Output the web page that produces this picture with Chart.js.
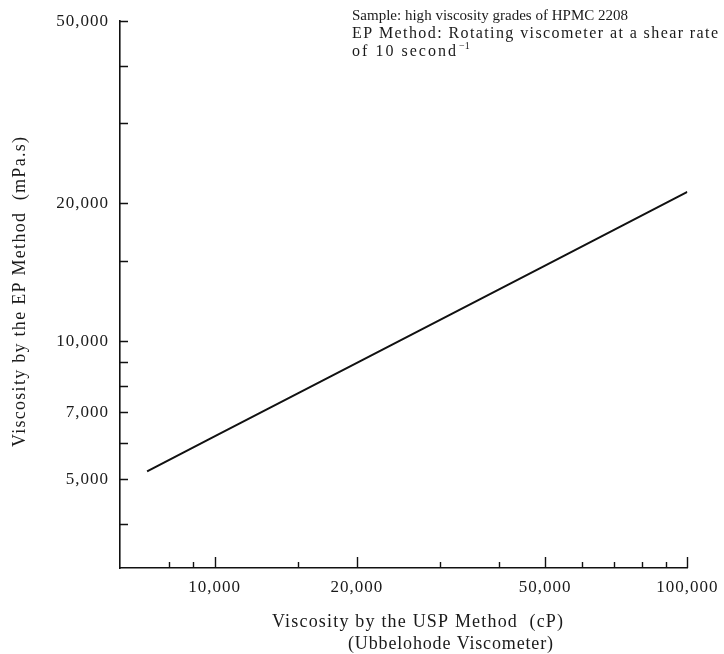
<!DOCTYPE html>
<html>
<head>
<meta charset="utf-8">
<script src="https://cdn.jsdelivr.net/npm/chart.js@4.4.1/dist/chart.umd.min.js"></script>
<style>
  html, body { margin: 0; padding: 0; background: #fff; }
</style>
</head>
<body>
<canvas id="myChart" width="724" height="654"></canvas>
<script>
// values (log-log)
const uspViscosity = [7200, 10000, 20000, 50000, 100000];
const epViscosity = [5200, 6200, 8970, 14630, 21200];

const xTickValues = [8000, 9000, 10000, 15000, 20000, 30000, 40000, 50000, 60000, 70000, 80000, 90000, 100000];
const xTickLabels = { 10000: '10,000', 20000: '20,000', 50000: '50,000', 100000: '100,000' };
const yTickValues = [4000, 5000, 6000, 7000, 8000, 9000, 10000, 15000, 20000, 30000, 40000, 50000];
const yTickLabels = { 5000: '5,000', 7000: '7,000', 10000: '10,000', 20000: '20,000', 50000: '50,000' };

const noteLines = [
  'Sample: high viscosity grades of HPMC 2208',
  'EP Method: Rotating viscometer at a shear rate',
  'of 10 second',
];
const xTitle = ['Viscosity by the USP Method  (cP)', '(Ubbelohode Viscometer)'];
const yTitle = 'Viscosity by the EP Method  (mPa.s)';

const serif = '"Liberation Serif", "Times New Roman", serif';

// draws text stretched to a given width with letter spacing
function spacedText(ctx, text, x, y, size, width) {
  ctx.font = size + 'px ' + serif;
  ctx.letterSpacing = '0px';
  let w0 = ctx.measureText(text).width;
  let sp = (width - w0) / (text.length - 1);
  ctx.letterSpacing = sp + 'px';
  ctx.textAlign = 'left';
  ctx.fillText(text, x, y);
  ctx.letterSpacing = '0px';
}

const paperPlugin = {
  id: 'paper',
  beforeDraw(chart) {
    chart.ctx.letterSpacing = '1px';
  },
  afterDraw(chart) {
    const { ctx, chartArea, scales } = chart;
    ctx.save();
    ctx.letterSpacing = '0px';
    // inward tick marks
    ctx.strokeStyle = '#111';
    ctx.lineWidth = 1.4;
    ctx.beginPath();
    yTickValues.forEach((v) => {
      let y = Math.round(scales.y.getPixelForValue(v)) + 0.5;
      ctx.moveTo(chartArea.left, y);
      ctx.lineTo(chartArea.left + 8, y);
    });
    xTickValues.forEach((v) => {
      let x = Math.round(scales.x.getPixelForValue(v)) + 0.5;
      let len = xTickLabels[v] ? 11 : 6;
      ctx.moveTo(x, chartArea.bottom);
      ctx.lineTo(x, chartArea.bottom - len);
    });
    ctx.stroke();

    ctx.fillStyle = '#1a1a1a';
    ctx.textBaseline = 'alphabetic';
    // note in the top right
    spacedText(ctx, noteLines[0], 352, 20, 15, 276);
    spacedText(ctx, noteLines[1], 352, 38, 16, 366);
    spacedText(ctx, noteLines[2], 352, 56, 16, 104);
    ctx.font = '10px ' + serif;
    ctx.fillText('\u22121', 459, 49);

    // axis titles
    spacedText(ctx, xTitle[0], 272, 627, 18, 291);
    spacedText(ctx, xTitle[1], 348, 649, 18, 205);
    ctx.translate(25, 292);
    ctx.rotate(-Math.PI / 2);
    spacedText(ctx, yTitle, -155, 0, 18, 310);
    ctx.restore();
  },
};

const ctx = document.getElementById('myChart');
new Chart(ctx, {
  type: 'line',
  data: {
    datasets: [
      {
        data: uspViscosity.map((v, i) => ({ x: v, y: epViscosity[i] })),
        borderColor: '#111',
        borderWidth: 2,
        pointRadius: 0,
        tension: 0,
      },
    ],
  },
  options: {
    responsive: false,
    animation: false,
    devicePixelRatio: 1,
    layout: { padding: { left: 0, top: 15, right: 35, bottom: 0 } },
    scales: {
      x: {
        type: 'logarithmic',
        min: 6310,
        max: 100000,
        grid: { display: false, drawTicks: false },
        border: { color: '#111', width: 1.6 },
        afterBuildTicks: (s) => { s.ticks = xTickValues.map((v) => ({ value: v })); },
        afterFit: (s) => { s.height = 86; },
        ticks: {
          autoSkip: false,
          maxRotation: 0,
          padding: 9,
          color: '#1a1a1a',
          font: { family: serif, size: 17 },
          callback: (v) => xTickLabels[v] || '',
        },
      },
      y: {
        type: 'logarithmic',
        min: 3200,
        max: 50000,
        grid: { display: false, drawTicks: false },
        border: { color: '#111', width: 1.6 },
        afterBuildTicks: (s) => { s.ticks = yTickValues.map((v) => ({ value: v })); },
        afterFit: (s) => { s.width = 120; },
        ticks: {
          autoSkip: false,
          padding: 11,
          color: '#1a1a1a',
          font: { family: serif, size: 17 },
          callback: (v) => yTickLabels[v] || '',
        },
      },
    },
    plugins: {
      legend: { display: false },
      tooltip: { enabled: false },
    },
  },
  plugins: [paperPlugin],
});
</script>
</body>
</html>
